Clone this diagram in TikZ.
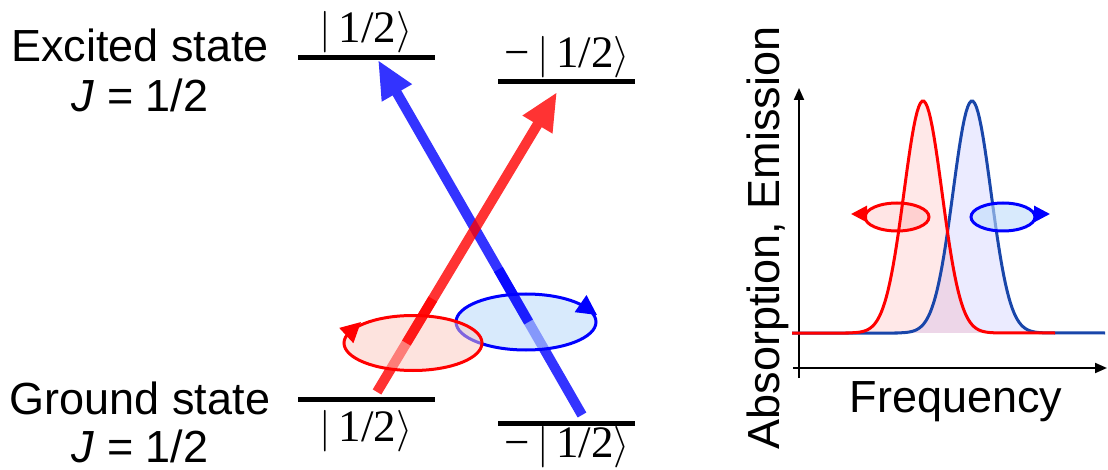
\documentclass[tikz,border=0pt]{standalone}
\usepackage{fontspec}
\setmainfont{Liberation Sans}
\newfontfamily\kets{Liberation Serif}
\usetikzlibrary{arrows.meta,calc}

\definecolor{curveblue}{RGB}{25,70,170}
\definecolor{discred}{RGB}{252,200,190}
\definecolor{discblue}{RGB}{190,220,250}

\tikzset{
  lvl/.style={line width=2.5pt},
  beam/.style={line width=5pt},
  beamtip/.style={-{Triangle[length=19pt,width=16pt]}},
  ket/.style={font=\fontsize{22.5}{27}\selectfont,inner sep=1pt},
  lbl/.style={font=\fontsize{22.5}{27}\selectfont,anchor=base},
  spin/.style={line width=1.5pt},
  spintip/.style={-{Triangle[length=8pt,width=8pt]}},
  bigspintip/.style={-{Triangle[length=10pt,width=10pt]}},
  ax/.style={line width=1pt,-{Triangle[length=6pt,width=5pt]}},
}

\begin{document}
\begin{tikzpicture}[x=0.5pt,y=-0.5pt]
\useasboundingbox (0,0) rectangle (1108,470);

% state labels
\node[lbl] (exc) at (140,62) {Excited state};
\node[lbl] (excj) at (140,112) {\textit{J} = 1/2};
\node[lbl] (gnd) at (140,414) {Ground state};
\node[lbl] (gndj) at (140,462) {\textit{J} = 1/2};

% levels
\coordinate (eL1) at (298,58);  \coordinate (eL2) at (435,58);
\coordinate (eR1) at (498,82);  \coordinate (eR2) at (635,82);
\coordinate (gL1) at (298,399); \coordinate (gL2) at (435,399);
\coordinate (gR1) at (498,423); \coordinate (gR2) at (635,423);
\draw[lvl] (eL1)--(eL2);
\draw[lvl] (eR1)--(eR2);
\draw[lvl] (gL1)--(gL2);
\draw[lvl] (gR1)--(gR2);
\node[ket] (keL) at (366,32) {$|$\kets\,1/2$\rangle$};
\node[ket] (keR) at (567,57) {\kets −\,$|$\,1/2$\rangle$};
\node[ket] (kgL) at (366,431) {$|$\kets\,1/2$\rangle$};
\node[ket] (kgR) at (567,447) {\kets −\,$|$\,1/2$\rangle$};

% transitions
\coordinate (bS) at (582,415); \coordinate (bE) at (378,60);
\coordinate (rS) at (377,392); \coordinate (rE) at (557,92);
\begin{scope}[transparency group,opacity=0.8]
\draw[beam,beamtip,blue] (bS)--(bE);
\end{scope}
\begin{scope}[transparency group,opacity=0.8]
\draw[beam,beamtip,red] (rS)--(rE);
\end{scope}

% polarisation discs
\coordinate (bC) at (526,322);
\coordinate (rC) at (413,343);
\draw[spin,blue,fill=discblue,fill opacity=0.6] (bC) ellipse [x radius=70,y radius=28];
\draw[beam,blue,opacity=0.8] ($(bS)!0.262!(bE)$)--($(bS)!0.41!(bE)$);
\draw[spin,blue,bigspintip] (584,306)--(597,315);
\draw[spin,red,fill=discred,fill opacity=0.5] (rC) ellipse [x radius=69,y radius=27.5];
\draw[beam,red,opacity=0.8] ($(rS)!0.163!(rE)$)--($(rS)!0.31!(rE)$);
\draw[spin,red,bigspintip] (348,334)--(361,322);

% spectrum
\coordinate (yb) at (799,378); \coordinate (yt) at (799,88);
\coordinate (xb) at (793,368); \coordinate (xt) at (1107,368);
\draw[ax] (yb)--(yt);
\draw[ax] (xb)--(xt);
\fill[blue,fill opacity=0.08] (896,333) -- plot[domain=896:1048,samples=90] (\x,{333-232*exp(-0.5*(((\x-972)/19)^2))}) -- cycle;
\fill[red,fill opacity=0.09] (847,333) -- plot[domain=847:999,samples=90] (\x,{333-232*exp(-0.5*(((\x-923)/19)^2))}) -- cycle;
\draw[curveblue,line width=1.5pt] (792,333) -- (896,333) -- plot[domain=896:1048,samples=90] (\x,{333-232*exp(-0.5*(((\x-972)/19)^2))}) -- (1105,333);
\draw[red,line width=1.5pt] (792,333) -- (847,333) -- plot[domain=847:999,samples=90] (\x,{333-232*exp(-0.5*(((\x-923)/19)^2))}) -- (1055,333);
\node[lbl,anchor=center] (freq) at (956,402) {Frequency};
\node[lbl,anchor=center,rotate=90] (absem) at (768,238) {Absorption, Emission};

% circular polarisation marks
\coordinate (sR) at (897,217);
\coordinate (sB) at (1003,217);
\draw[spin,red,fill=red,fill opacity=0.1] (sR) ellipse [x radius=32,y radius=14];
\draw[spin,red,spintip] (866,214)--(851,214);
\draw[spin,blue,fill=discblue,fill opacity=0.6] (sB) ellipse [x radius=32,y radius=14];
\draw[spin,blue,spintip] (1034,214)--(1050,214);
\end{tikzpicture}
\end{document}
